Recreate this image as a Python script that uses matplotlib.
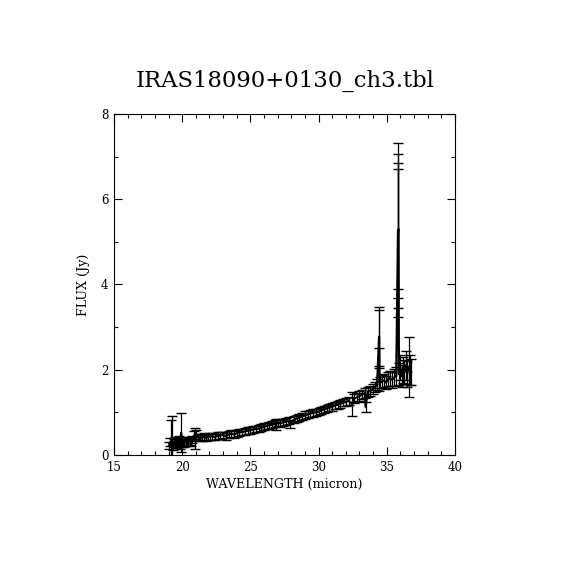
import numpy as np
import matplotlib
matplotlib.use("Agg")
import matplotlib.pyplot as plt
from matplotlib.ticker import MultipleLocator

# spectrum (micron, Jy, Jy)
wavelength = [19.05, 19.12, 19.20, 19.25, 19.32, 19.40, 19.48, 19.55, 19.62, 19.70,
              19.78, 19.85, 19.92, 20.00, 20.08, 20.15, 20.25, 20.35, 20.45, 20.55,
              20.65, 20.75, 20.85, 20.95, 21.05, 21.15, 21.30, 21.45, 21.60, 21.75,
              21.90, 22.05, 22.20, 22.40, 22.60, 22.80, 23.00, 23.20, 23.40, 23.60,
              23.80, 24.00, 24.20, 24.40, 24.60, 24.80, 25.00, 25.20, 25.40, 25.60,
              25.80, 26.00, 26.20, 26.40, 26.60, 26.80, 26.90, 27.00, 27.20, 27.40,
              27.60, 27.80, 27.90, 28.20, 28.40, 28.60, 28.80, 29.00, 29.20, 29.40,
              29.60, 29.80, 30.00, 30.20, 30.40, 30.60, 30.80, 31.00, 31.20, 31.40,
              31.60, 31.80, 32.00, 32.20, 32.45, 32.60, 32.80, 33.00, 33.20, 33.40,
              33.45, 33.60, 33.80, 34.00, 34.15, 34.30, 34.44, 34.45, 34.46, 34.50,
              34.65, 34.80, 34.95, 35.10, 35.25, 35.40, 35.55, 35.70, 35.83, 35.84,
              35.85, 35.86, 35.90, 36.00, 36.10, 36.20, 36.30, 36.40, 36.50, 36.60,
              36.70, 36.80]
flux = [0.22, 0.30, 0.30, 0.36, 0.20, 0.28, 0.33, 0.24, 0.30, 0.27,
        0.35, 0.22, 0.52, 0.28, 0.30, 0.26, 0.32, 0.29, 0.31, 0.33,
        0.30, 0.36, 0.45, 0.39, 0.48, 0.42, 0.40, 0.41, 0.43, 0.40,
        0.42, 0.43, 0.44, 0.42, 0.45, 0.46, 0.47, 0.44, 0.48, 0.50,
        0.48, 0.51, 0.53, 0.54, 0.55, 0.57, 0.58, 0.60, 0.61, 0.62,
        0.64, 0.66, 0.68, 0.70, 0.71, 0.73, 0.72, 0.76, 0.74, 0.77,
        0.78, 0.80, 0.72, 0.83, 0.86, 0.88, 0.90, 0.93, 0.95, 0.97,
        0.99, 1.00, 1.02, 1.04, 1.07, 1.09, 1.11, 1.13, 1.16, 1.18,
        1.20, 1.23, 1.24, 1.27, 1.20, 1.32, 1.35, 1.38, 1.42, 1.45,
        1.13, 1.48, 1.50, 1.55, 1.60, 1.65, 2.78, 2.72, 2.00, 1.70,
        1.72, 1.75, 1.70, 1.78, 1.80, 1.76, 1.82, 1.85, 5.28, 5.26,
        5.27, 5.30, 1.90, 2.05, 1.85, 2.00, 1.95, 2.10, 1.90, 2.07,
        2.00, 1.95]
flux_err = [0.08, 0.10, 0.52, 0.55, 0.08, 0.09, 0.10, 0.08, 0.09, 0.08,
            0.10, 0.08, 0.46, 0.09, 0.08, 0.08, 0.09, 0.08, 0.08, 0.09,
            0.08, 0.09, 0.12, 0.25, 0.10, 0.08, 0.08, 0.08, 0.08, 0.08,
            0.08, 0.08, 0.08, 0.08, 0.08, 0.08, 0.08, 0.08, 0.08, 0.08,
            0.08, 0.08, 0.08, 0.08, 0.08, 0.08, 0.08, 0.08, 0.08, 0.08,
            0.08, 0.08, 0.08, 0.08, 0.08, 0.08, 0.13, 0.08, 0.08, 0.08,
            0.08, 0.08, 0.09, 0.08, 0.08, 0.08, 0.09, 0.09, 0.09, 0.09,
            0.09, 0.09, 0.09, 0.09, 0.09, 0.09, 0.09, 0.09, 0.09, 0.09,
            0.09, 0.09, 0.10, 0.10, 0.28, 0.10, 0.10, 0.11, 0.11, 0.11,
            0.12, 0.12, 0.12, 0.12, 0.12, 0.13, 0.70, 0.67, 0.50, 0.14,
            0.15, 0.15, 0.16, 0.16, 0.17, 0.18, 0.20, 0.22, 2.04, 1.81,
            1.58, 1.40, 0.25, 0.30, 0.25, 0.30, 0.28, 0.35, 0.30, 0.70,
            0.35, 0.30]

title = "IRAS18090+0130_ch3.tbl"
x_label = "WAVELENGTH (micron)"
y_label = "FLUX (Jy)"

plt.rcParams['font.family'] = ['DejaVu Serif']

fig = plt.figure(figsize=(5.7, 5.7), dpi=100)
ax = fig.add_axes([0.2, 0.2018, 0.598, 0.5982])

ax.errorbar(wavelength, flux, yerr=flux_err, fmt='-', color='black',
            lw=1.6, elinewidth=0.9, capsize=3.8, capthick=1.0)

ax.set_xlim(15, 40)
ax.set_ylim(0, 8)
ax.xaxis.set_major_locator(MultipleLocator(5))
ax.xaxis.set_minor_locator(MultipleLocator(1))
ax.yaxis.set_major_locator(MultipleLocator(2))
ax.yaxis.set_minor_locator(MultipleLocator(1))
ax.tick_params(which='both', direction='in', top=True, right=True,
               width=0.8, labelsize=8.5, colors='black')
ax.tick_params(which='major', length=5.5, pad=4)
ax.tick_params(which='minor', length=3)
for s in ax.spines.values():
    s.set_linewidth(0.8)

ax.set_xlabel(x_label, fontsize=9.1, labelpad=3)
ax.set_ylabel(y_label, fontsize=9.1, labelpad=8)
fig.text(0.5, 0.858, title, ha='center', va='center', fontsize=16.4)

fig.savefig("out.png", dpi=100, facecolor='white')
